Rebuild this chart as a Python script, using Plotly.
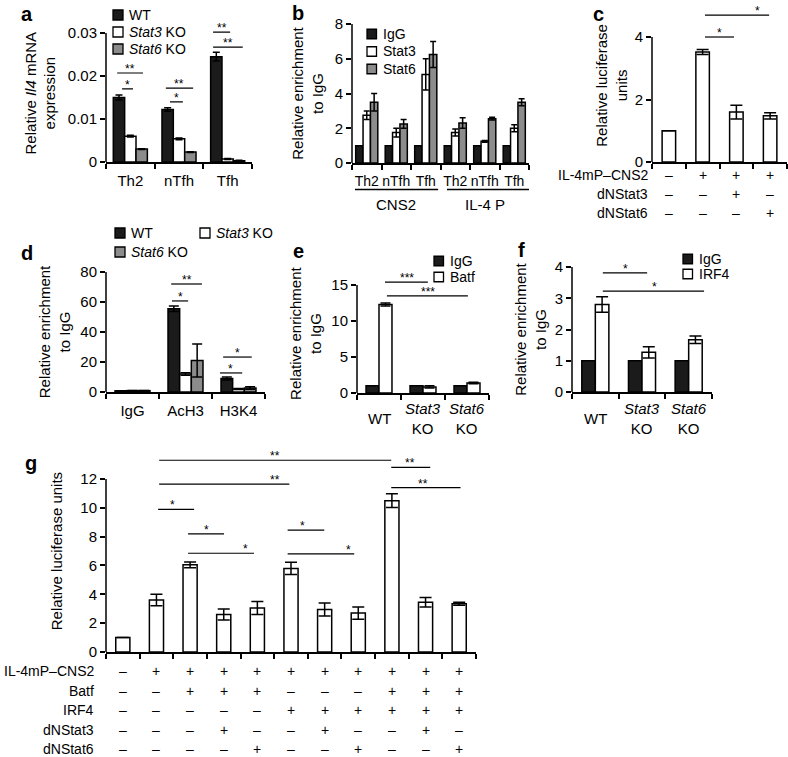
import plotly.graph_objects as go

W, H = 788, 757
FONT = "Liberation Sans, Arial, Helvetica, sans-serif"
BLACK = "#1b1b1b"
WHITE = "#ffffff"
GREY = "#8c8c8c"
TICK = 15
TITLE = 15

# ---------------- data ----------------
a_cats = ["Th2", "nTfh", "Tfh"]
a_wt = [0.0150, 0.0122, 0.0245]
a_wt_err = [0.0006, 0.0004, 0.0010]
a_stat3 = [0.0060, 0.0054, 0.0007]
a_stat3_err = [0.0002, 0.0002, 0.0001]
a_stat6 = [0.0030, 0.0023, 0.0003]
a_stat6_err = [0.0001, 0.0001, 0.0001]
a_yticks = [0, 0.01, 0.02, 0.03]
a_yticktext = ["0", "0.01", "0.02", "0.03"]

b_cats = ["Th2", "nTfh", "Tfh", "Th2", "nTfh", "Tfh"]
b_regions = ["CNS2", "IL-4 P"]
b_igg = [1, 1, 1, 1, 1, 1]
b_stat3 = [2.75, 1.75, 5.1, 1.75, 1.25, 2.0]
b_stat3_err = [0.25, 0.25, 0.9, 0.2, 0.05, 0.2]
b_stat6 = [3.5, 2.25, 6.25, 2.3, 2.55, 3.5]
b_stat6_err = [0.5, 0.25, 0.75, 0.3, 0.08, 0.2]
b_yticks = [0, 2, 4, 6, 8]

c_vals = [1, 3.52, 1.6, 1.48]
c_err = [0, 0.08, 0.22, 0.1]
c_rows = ["IL-4mP\u2013CNS2", "dNStat3", "dNStat6"]
c_signs = [["\u2013", "+", "+", "+"],
           ["\u2013", "\u2013", "+", "\u2013"],
           ["\u2013", "\u2013", "\u2013", "+"]]
c_yticks = [0, 2, 4]

d_cats = ["IgG", "AcH3", "H3K4"]
d_wt = [0.8, 55.5, 9.0]
d_wt_err = [0.1, 1.8, 1.0]
d_stat3 = [0.9, 12.0, 2.0]
d_stat3_err = [0.1, 0.8, 0.3]
d_stat6 = [0.9, 21.0, 2.7]
d_stat6_err = [0.1, 11.0, 0.8]
d_yticks = [0, 20, 40, 60, 80]

e_cats = ["WT", "<i>Stat3</i><br>KO", "<i>Stat6</i><br>KO"]
e_igg = [1, 1, 1]
e_batf = [12.3, 0.85, 1.4]
e_batf_err = [0.2, 0.15, 0.1]
e_yticks = [0, 5, 10, 15]

f_cats = ["WT", "<i>Stat3</i><br>KO", "<i>Stat6</i><br>KO"]
f_igg = [1, 1, 1]
f_irf4 = [2.8, 1.27, 1.67]
f_irf4_err = [0.25, 0.18, 0.12]
f_yticks = [0, 1, 2, 3, 4]

g_vals = [1, 3.6, 6.05, 2.6, 3.05, 5.8, 2.95, 2.7, 10.5, 3.45, 3.35]
g_err = [0, 0.4, 0.2, 0.38, 0.45, 0.42, 0.45, 0.43, 0.48, 0.33, 0.1]
g_rows = ["IL-4mP\u2013CNS2", "Batf", "IRF4", "dNStat3", "dNStat6"]
M_, P_ = "\u2013", "+"
g_signs = [[M_, P_, P_, P_, P_, P_, P_, P_, P_, P_, P_],
           [M_, M_, P_, P_, P_, M_, M_, M_, P_, P_, P_],
           [M_, M_, M_, M_, M_, P_, P_, P_, P_, P_, P_],
           [M_, M_, M_, P_, M_, M_, P_, M_, M_, P_, M_],
           [M_, M_, M_, M_, P_, M_, M_, P_, M_, M_, P_]]
g_yticks = [0, 2, 4, 6, 8, 10, 12]

# significance brackets: (x_start, x_end, y, stars, star_x)
a_sig = [(-0.27, 0.26, 0.0207, "**", None), (-0.17, 0.055, 0.0170, "*", None),
         (0.73, 1.29, 0.0172, "**", None), (0.815, 1.08, 0.0140, "*", None),
         (1.70, 2.05, 0.0302, "**", None), (1.70, 2.31, 0.0267, "**", None)]
c_sig = [(1.07, 1.93, 4.0, "*", 1.51), (1.07, 2.97, 4.7, "*", 2.64)]
d_sig = [(0.73, 1.31, 72, "**", 1.03), (0.745, 1.05, 60.7, "*", 0.9),
         (1.71, 2.25, 23.3, "*", 1.99), (1.65, 2.07, 12.7, "*", 1.84)]
e_sig = [(0.136, 1.11, 15.4, "***", 0.64), (0.18, 2.02, 13.5, "***", 1.11)]
f_sig = [(0.16, 1.11, 3.81, "*", 0.64), (0.16, 2.33, 3.23, "*", 1.26)]
g_sig = [(1.08, 7.98, 13.3, "**", 4.53), (7.98, 9.14, 12.8, "**", 8.55),
         (1.08, 4.95, 11.65, "**", 4.53), (7.98, 10.04, 11.4, "**", 8.93),
         (1.05, 2.12, 9.9, "*", 1.49), (1.94, 3.01, 8.2, "*", 2.48),
         (1.94, 3.90, 6.85, "*", 3.64), (4.90, 5.99, 8.45, "*", 5.33),
         (4.90, 6.88, 6.8, "*", 6.7)]

# ---------------- layout helpers ----------------
fig = go.Figure()
shapes = []
annotations = []


def px_x(p):
    return p / W


def px_y(p):
    return 1 - p / H


def ydomain(y0px, ytop_px, top_val, range_max):
    k = (y0px - ytop_px) / top_val
    top_px = y0px - range_max * k
    return [1 - y0px / H, 1 - top_px / H]


def add_axes(n, xpx, ydom, ncat, labels, yticks, ytext, ymax, ytop, title, standoff,
             showlabels=True, xfont=TICK):
    sx = "" if n == 1 else str(n)
    fig.layout["xaxis" + sx] = dict(
        domain=[xpx[0] / W, xpx[1] / W], anchor="y" + sx, range=[-0.5, ncat - 0.5],
        tickmode="array", tickvals=list(range(ncat)), ticktext=labels, tickangle=0,
        showticklabels=showlabels, ticks="outside", ticklen=4, tickwidth=1.5,
        tickcolor="rgba(0,0,0,0)", showline=True, linecolor="black", linewidth=1.5,
        showgrid=False, zeroline=False, fixedrange=True, automargin=False,
        tickfont=dict(size=xfont, color="black"),
        minor=dict(tickmode="array", tickvals=[i - 0.5 for i in range(ncat + 1)],
                   ticks="outside", ticklen=5, tickwidth=1.5, tickcolor="black",
                   showgrid=False))
    fig.layout["yaxis" + sx] = dict(
        domain=ydom, anchor="x" + sx, range=[0, ymax], tickmode="array",
        tickvals=yticks, ticktext=ytext, ticks="outside", ticklen=5, tickwidth=1.5,
        tickcolor="black", showline=False, showgrid=False, zeroline=False,
        fixedrange=True, automargin=False, tickfont=dict(size=TICK, color="black"),
        title=dict(text=title, standoff=standoff, font=dict(size=TITLE, color="black")))
    # left spine from 0 to the top tick
    shapes.append(dict(type="line", xref=f"x{sx} domain", yref=f"y{sx}", x0=0, x1=0,
                       y0=0, y1=ytop, line=dict(color="black", width=1.5)))


def add_bars(n, series, frac, capw):
    sx = "" if n == 1 else str(n)
    k = len(series)
    w = frac / k
    for j, (name, vals, errs, color) in enumerate(series):
        fig.add_bar(
            x=list(range(len(vals))), y=vals, width=w, offset=-frac / 2 + j * w,
            name=name, marker=dict(color=color, line=dict(color="black", width=1.5)),
            error_y=dict(type="data", array=errs, color="black", thickness=1.5,
                         width=capw, visible=errs is not None),
            xaxis="x" + sx, yaxis="y" + sx, showlegend=False, hoverinfo="skip")


def add_sig(n, sigs, fsize=12):
    sx = "" if n == 1 else str(n)
    for x0, x1, y, stars, xs in sigs:
        shapes.append(dict(type="line", xref="x" + sx, yref="y" + sx, x0=x0, x1=x1,
                           y0=y, y1=y, line=dict(color="black", width=1.2)))
        annotations.append(dict(x=(x0 + x1) / 2 if xs is None else xs, y=y,
                                xref="x" + sx, yref="y" + sx, text=stars,
                                showarrow=False, yanchor="bottom", yshift=-5,
                                font=dict(size=fsize, color="black")))


def legend_entry(xpx, ypx, color, text, size=10, fsize=14):
    shapes.append(dict(type="rect", xref="paper", yref="paper",
                       x0=px_x(xpx), x1=px_x(xpx + size),
                       y0=px_y(ypx + size / 2), y1=px_y(ypx - size / 2),
                       fillcolor=color, line=dict(color="black", width=1.3)))
    annotations.append(dict(x=px_x(xpx + size + 4), y=px_y(ypx), xref="paper",
                            yref="paper", text=text, showarrow=False, xanchor="left",
                            yanchor="middle", font=dict(size=fsize, color="black")))


# ---------------- panel a ----------------
add_axes(1, (106, 252), ydomain(162, 33, 0.03, 0.032), 3, a_cats, a_yticks, a_yticktext,
         0.032, 0.03, "Relative <i>Il4</i> mRNA<br>expression", 8)
add_bars(1, [("WT", a_wt, a_wt_err, BLACK), ("Stat3 KO", a_stat3, a_stat3_err, WHITE),
             ("Stat6 KO", a_stat6, a_stat6_err, GREY)], 0.70, 3.5)
add_sig(1, a_sig)
for i, (nm, col) in enumerate([("WT", BLACK), ("<i>Stat3</i> KO", WHITE),
                               ("<i>Stat6</i> KO", GREY)]):
    legend_entry(113, 15 + 17 * i, col, nm)

# ---------------- panel b ----------------
add_axes(2, (352, 529), ydomain(163, 24, 8, 8), 6, b_cats, b_yticks,
         [str(v) for v in b_yticks], 8, 8, "Relative enrichment<br>to IgG", 7, xfont=14)
add_bars(2, [("IgG", b_igg, None, BLACK), ("Stat3", b_stat3, b_stat3_err, WHITE),
             ("Stat6", b_stat6, b_stat6_err, GREY)], 0.75, 3)
for i, (nm, col) in enumerate([("IgG", BLACK), ("Stat3", WHITE), ("Stat6", GREY)]):
    legend_entry(367, 34 + 17.5 * i, col, nm, size=9.5)
for i, (lo, hi) in enumerate([(-0.4, 2.42), (2.72, 5.53)]):
    shapes.append(dict(type="line", xref="x2", yref="paper", x0=lo, x1=hi,
                       y0=px_y(189.5), y1=px_y(189.5), line=dict(color="black", width=1.5)))
    annotations.append(dict(x=1 + 3 * i, y=px_y(204), xref="x2", yref="paper",
                            text=b_regions[i], showarrow=False, yanchor="middle",
                            font=dict(size=TICK, color="black")))

# ---------------- panel c ----------------
add_axes(3, (652, 787), ydomain(162, 37, 4, 4.9), 4, [""] * 4, c_yticks,
         [str(v) for v in c_yticks], 4.9, 4, "Relative luciferase<br>units", 3,
         showlabels=False)
add_bars(3, [("Luciferase", c_vals, c_err, WHITE)], 0.40, 6)
add_sig(3, c_sig)
for r, (lab, signs) in enumerate(zip(c_rows, c_signs)):
    ypx = 175 + r * 19
    annotations.append(dict(x=0, y=px_y(ypx), xref="x3 domain", yref="paper", text=lab,
                            showarrow=False, xanchor="right", yanchor="middle", xshift=-2,
                            font=dict(size=14, color="black")))
    for i, s in enumerate(signs):
        annotations.append(dict(x=i, y=px_y(ypx), xref="x3", yref="paper", text=s,
                                showarrow=False, yanchor="middle",
                                font=dict(size=14, color="black")))

# ---------------- panel d ----------------
add_axes(4, (106, 265), ydomain(392, 272, 80, 80), 3, d_cats, d_yticks,
         [str(v) for v in d_yticks], 80, 80, "Relative enrichment<br>to IgG", 6)
add_bars(4, [("WT", d_wt, d_wt_err, BLACK), ("Stat3 KO", d_stat3, d_stat3_err, WHITE),
             ("Stat6 KO", d_stat6, d_stat6_err, GREY)], 0.66, 5)
add_sig(4, d_sig)
legend_entry(115, 233, BLACK, "WT")
legend_entry(115, 252, GREY, "<i>Stat6</i> KO")
legend_entry(200, 233, WHITE, "<i>Stat3</i> KO")

# ---------------- panel e ----------------
add_axes(5, (357, 489), ydomain(393, 285, 15, 16.5), 3, e_cats, e_yticks,
         [str(v) for v in e_yticks], 16.5, 15, "Relative enrichment<br>to IgG", 6,
         showlabels=False)
add_bars(5, [("IgG", e_igg, None, BLACK), ("Batf", e_batf, e_batf_err, WHITE)], 0.59, 5)
add_sig(5, e_sig)
legend_entry(434, 261, BLACK, "IgG", size=9.5)
legend_entry(434, 277, WHITE, "Batf", size=9.5)

# ---------------- panel f ----------------
add_axes(6, (572, 712), ydomain(392, 267, 4, 4.0), 3, f_cats, f_yticks,
         [str(v) for v in f_yticks], 4.0, 4, "Relative enrichment<br>to IgG", 4,
         showlabels=False)
add_bars(6, [("IgG", f_igg, None, BLACK), ("IRF4", f_irf4, f_irf4_err, WHITE)], 0.58, 6)
add_sig(6, f_sig)
legend_entry(683, 259, BLACK, "IgG", size=9.5)
legend_entry(683, 274, WHITE, "IRF4", size=9.5)

for n, cats in ((5, e_cats), (6, f_cats)):
    for i, lab in enumerate(cats):
        annotations.append(dict(x=i, y=px_y(418), xref=f"x{n}", yref="paper", text=lab,
                                showarrow=False, yanchor="middle",
                                font=dict(size=TICK, color="black")))

# ---------------- panel g ----------------
add_axes(7, (106, 476), ydomain(652, 479, 12, 14), 11, [""] * 11, g_yticks,
         [str(v) for v in g_yticks], 14, 12, "Relative luciferase units", 14,
         showlabels=False)
add_bars(7, [("Luciferase", g_vals, g_err, WHITE)], 0.42, 6)
add_sig(7, g_sig)
for r, (lab, signs) in enumerate(zip(g_rows, g_signs)):
    ypx = 671 + r * 19.5
    annotations.append(dict(x=0, y=px_y(ypx), xref="x7 domain", yref="paper", text=lab,
                            showarrow=False, xanchor="right", yanchor="middle", xshift=-10,
                            font=dict(size=14, color="black")))
    for i, s in enumerate(signs):
        annotations.append(dict(x=i, y=px_y(ypx), xref="x7", yref="paper", text=s,
                                showarrow=False, yanchor="middle",
                                font=dict(size=14, color="black")))

# ---------------- panel letters ----------------
for letter, (lx, ly) in {"a": (27, 14), "b": (298, 13), "c": (598, 14), "d": (27, 253),
                         "e": (298, 251), "f": (521, 250), "g": (31, 463)}.items():
    annotations.append(dict(x=lx / W, y=px_y(ly), xref="paper", yref="paper",
                            text=f"<b>{letter}</b>", showarrow=False, xanchor="center",
                            yanchor="middle", font=dict(size=20, color="black")))

fig.update_layout(
    width=W, height=H, margin=dict(l=0, r=0, t=0, b=0, autoexpand=False), autosize=False,
    paper_bgcolor="white", plot_bgcolor="white", barmode="overlay", showlegend=False,
    font=dict(family=FONT, size=14, color="black"),
    shapes=shapes, annotations=annotations,
)

fig.write_html("out.html", config={"displayModeBar": False},
               post_script="document.body.style.margin='0';"
                           "document.body.style.padding='0';")
